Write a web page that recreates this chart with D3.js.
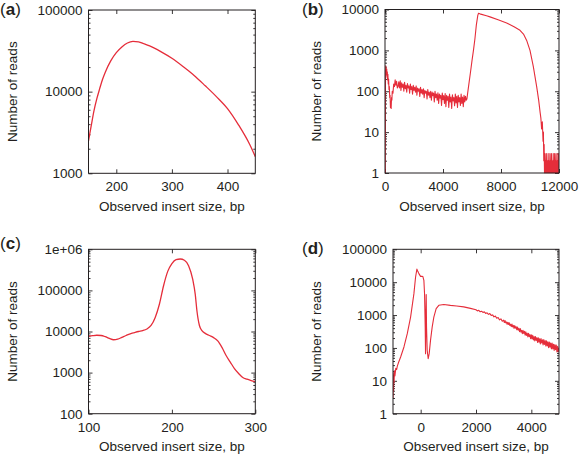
<!DOCTYPE html>
<html><head><meta charset="utf-8">
<script src="https://cdn.jsdelivr.net/npm/d3@7"></script>
<style>
html,body{margin:0;padding:0;background:#fff;}
svg{display:block;font-family:"Liberation Sans",Arial,Helvetica,sans-serif;}
</style></head><body>
<svg id="chart" width="579" height="454"></svg>
<script>
// ---------- Panel (a) ----------
const aX = [150,155,160,165,170,175,180,190,200,210,220,230,240,250,260,280,300,320,340,360,380,400,420,440,450];
const aY = [2500,3860,5900,8200,10800,14000,17200,23800,30000,35200,39400,41200,40800,38600,36300,30900,25600,20300,15800,11800,8700,6200,3900,2250,1600];
const aXTicks = [200,300,400];
const aYTicks = [1000,10000,100000];
const aYLabels = ["1000","10000","100000"];

// ---------- Panel (b): [insert size, reads] ----------
const bPoints = [
  [0,1],[20,1],[35,300],[50,420],[65,250],[80,380],[100,280],[120,350],[140,220],[160,300],[180,190],[200,260],
  [225,150],[250,200],[275,110],[300,130],[325,70],[350,80],[375,40],[400,55],[425,38],[450,70],[475,60],[500,100],
  [550,90],[600,150],[650,130],[700,190],[750,140],[800,175],[850,120],
  [900,130],[950,170],[1000,120],[1050,180],[1100,105],[1150,160],[1200,125],[1250,150],[1300,100],[1350,165],
  [1400,115],[1450,140],[1500,95],[1550,155],[1600,120],[1650,135],[1700,90],[1750,150],[1800,110],[1850,130],
  [1900,85],[1950,140],[2000,105],[2050,125],[2100,95],[2150,135],[2200,80],[2250,120],[2300,100],[2350,115],
  [2400,75],[2450,125],[2500,90],[2550,110],[2600,85],[2650,115],[2700,70],[2750,105],[2800,90],[2850,100],
  [2900,65],[2950,110],[3000,80],[3050,95],[3100,70],[3150,100],[3200,60],[3250,95],[3300,78],[3350,90],
  [3400,55],[3450,100],[3500,70],[3550,85],[3600,60],[3650,92],[3700,50],[3750,85],[3800,68],[3850,80],
  [3900,45],[3950,90],[4000,62],[4050,78],[4100,50],[4150,88],[4200,42],[4250,80],[4300,60],[4350,75],
  [4400,40],[4450,85],[4500,55],[4550,72],[4600,38],[4650,82],[4700,58],[4750,70],[4800,44],[4850,85],
  [4900,52],[4950,75],[5000,40],[5050,80],[5100,55],[5150,70],[5200,45],[5250,85],[5300,50],[5350,72],
  [5400,42],[5450,80],[5500,55],[5550,75],[5600,60],[5650,65],
  [5700,90],[5800,165],[5900,300],[6000,560],[6100,1000],[6200,1900],[6300,4200],[6400,7200],[6450,8100],
  [6500,8000],[6600,7700],[7000,7000],[7240,6600],[7800,5600],[8390,4700],[8900,3800],[9310,3100],[9550,2500],
  [9770,1750],[10000,1000],[10230,400],[10460,130],[10600,60],[10700,30],[10750,22],[10800,12],[10850,18],
  [10900,6],[10925,10],[10950,2],[10975,5],
  [11000,1],[11025,3],[11050,1],[11075,2],[11100,1],[11125,3],[11150,1],[11175,1],[11200,2],[11225,1],
  [11250,3],[11275,1],[11300,2],[11325,1],[11350,1],[11375,3],[11400,1],[11425,2],[11450,1],[11475,3],
  [11500,1],[11525,2],[11550,1],[11575,1],[11600,3],[11625,1],[11650,2],[11675,1],[11700,3],[11725,1],
  [11750,2],[11775,1],[11800,3],[11825,1],[11850,1],[11875,2],[11900,1],[11925,3],[11950,1],[11975,2],[12000,3]
];
const bXTicks = [0,4000,8000,12000];
const bYTicks = [1,10,100,1000,10000];
const bYLabels = ["1","10","100","1000","10000"];

// ---------- Panel (c) ----------
const cX = [100,105,110,115,120,125,130,135,140,145,150,155,160,165,170,175,180,185,190,195,200,205,210,215,220,225,228,230,233,236,240,245,250,255,260,265,270,275,280,285,290,295,300];
const cY = [7600,7900,8100,8000,7500,6800,6300,6500,7200,8000,8800,9400,10000,10500,11500,14000,22000,46000,130000,290000,450000,560000,580000,540000,400000,185000,80000,32000,14000,10500,9000,8000,7100,5900,4100,2600,1800,1250,950,760,690,640,600];
const cXTicks = [100,200,300];
const cYTicks = [100,1000,10000,100000,1000000];
const cYLabels = ["100","1000","10000","100000","1e+06"];

// ---------- Panel (d): [insert size, reads] ----------
const dPoints = [
  [-1000,3],[-990,15],[-980,5],[-970,18],[-960,9],[-950,20],[-930,14],[-900,24],[-870,22],[-844,28],[-800,36],
  [-724,53],[-604,107],[-484,272],[-364,870],[-244,4470],[-184,14400],[-136,25000],[-100,21000],[-64,18200],
  [-4,15000],[40,15200],[80,14800],[116,11400],[140,4500],[164,430],[176,67],[188,900],[200,4200],[212,430],
  [236,85],[272,47],[308,67],[356,170],[416,430],[476,870],[560,1560],[656,1980],[836,2100],[1076,1970],
  [1300,1880],[1556,1770],[1800,1600],
  [2000,1450],[2050,1340],[2100,1390],[2150,1260],[2200,1310],[2250,1200],[2300,1250],[2350,1120],[2400,1170],
  [2450,1050],[2500,1110],[2550,975],[2600,1010],[2650,880],[2700,930],[2750,800],[2800,840],[2850,715],
  [2900,765],[2950,650],[3000,700],
  [3025,592],[3050,677],[3075,580],[3100,614],[3125,522],[3150,606],[3175,518],[3200,585],[3225,481],[3250,530],
  [3275,446],[3300,531],[3325,437],[3350,485],[3375,392],[3400,477],[3425,401],[3450,444],[3475,356],[3500,429],
  [3525,349],[3550,394],[3575,311],[3600,388],[3625,302],[3650,346],[3675,273],[3700,345],[3725,278],[3750,319],
  [3775,243],[3800,310],[3825,240],[3850,281],[3875,215],[3900,280],[3925,220],[3950,255],[3975,190],[4000,249],
  [4025,189],[4050,242],[4075,176],[4100,221],[4125,163],[4150,223],[4175,169],[4200,205],[4225,147],[4250,205],
  [4275,150],[4300,191],[4325,133],[4350,192],[4375,141],[4400,176],[4425,123],[4450,181],[4475,127],[4500,167],
  [4525,114],[4550,166],[4575,115],[4600,153],[4625,101],[4650,151],[4675,106],[4700,142],[4725,94],[4750,140],
  [4775,94],[4800,130],[4825,84],[4850,126],[4875,88],[4900,123],[4925,76],[4950,113],[4975,77],[5000,101]
];
const dXTicks = [0,2000,4000];
const dYTicks = [1,10,100,1000,10000,100000];
const dYLabels = ["1","10","100","1000","10000","100000"];

const xTitle = "Observed insert size, bp";
const yTitle = "Number of reads";
const panelLetters = ["a","b","c","d"];

const RED = "#e52d3a";
const INK = "#231f20";
const FS = 13.5;

const aPoints = aX.map((v,i)=>[v,aY[i]]);
const cPoints = cX.map((v,i)=>[v,cY[i]]);

const panels = [
  {letter:panelLetters[0], pts:aPoints, xd:[150,450], yd:[1000,100000], xt:aXTicks, yt:aYTicks, yl:aYLabels, box:[88.5,10,255.3,173.3], smooth:true, lab:[0,14.5], yTitleX:12},
  {letter:panelLetters[1], pts:bPoints, xd:[0,12000], yd:[1,10000], xt:bXTicks, yt:bYTicks, yl:bYLabels, box:[385,9.5,559,173], smooth:false, lab:[302,14.5], yTitleX:316.5},
  {letter:panelLetters[2], pts:cPoints, xd:[100,300], yd:[100,1000000], xt:cXTicks, yt:cYTicks, yl:cYLabels, box:[88.5,249.3,255.3,413.7], smooth:true, lab:[0,249], yTitleX:12},
  {letter:panelLetters[3], pts:dPoints, xd:[-1000,5000], yd:[1,100000], xt:dXTicks, yt:dYTicks, yl:dYLabels, box:[393,249.3,559,413.7], smooth:false, lab:[302,253.5], yTitleX:316.5}
];

const svg = d3.select("#chart");

panels.forEach((p, idx) => {
  const [L,T,R,B] = p.box;
  const x = d3.scaleLinear().domain(p.xd).range([L,R]);
  const y = d3.scaleLog().domain(p.yd).range([B,T]);
  const g = svg.append("g");

  const cid = "clip" + idx;
  svg.append("clipPath").attr("id", cid).append("rect")
    .attr("x", L).attr("y", T-0.5).attr("width", R-L).attr("height", B-T+1);

  const minors = [];
  const lo = Math.round(Math.log10(p.yd[0])), hi = Math.round(Math.log10(p.yd[1]));
  for (let e = lo; e < hi; e++) for (let k = 2; k <= 9; k++) minors.push(k*Math.pow(10,e));

  const styleAxis = sel => {
    sel.select(".domain").remove();
    sel.selectAll("line").attr("stroke", INK).attr("stroke-width", 0.9);
    sel.selectAll("text").attr("font-size", FS).attr("fill", INK)
      .attr("font-family", "'Liberation Sans',Arial,Helvetica,sans-serif");
  };

  g.append("g").attr("transform", `translate(${L},0)`)
    .call(d3.axisLeft(y).tickValues(minors).tickSize(-2).tickFormat("")).call(styleAxis);
  g.append("g").attr("transform", `translate(${R},0)`)
    .call(d3.axisRight(y).tickValues(minors).tickSize(-2).tickFormat("")).call(styleAxis);
  g.append("g").attr("transform", `translate(${L},0)`)
    .call(d3.axisLeft(y).tickValues(p.yt).tickSize(-4).tickPadding(6).tickFormat((d,i)=>p.yl[i])).call(styleAxis);
  g.append("g").attr("transform", `translate(${R},0)`)
    .call(d3.axisRight(y).tickValues(p.yt).tickSize(-4).tickFormat("")).call(styleAxis);
  g.append("g").attr("transform", `translate(0,${B})`)
    .call(d3.axisBottom(x).tickValues(p.xt).tickSize(-4).tickPadding(8.5).tickFormat(d3.format("d"))).call(styleAxis);
  g.append("g").attr("transform", `translate(0,${T})`)
    .call(d3.axisTop(x).tickValues(p.xt).tickSize(-4).tickFormat("")).call(styleAxis);

  const line = d3.line().x(d=>x(d[0])).y(d=>y(d[1]))
    .curve(p.smooth ? d3.curveMonotoneX : d3.curveLinear);
  g.append("path").datum(p.pts).attr("clip-path", `url(#${cid})`)
    .attr("d", line).attr("fill","none").attr("stroke", RED)
    .attr("stroke-width", p.smooth ? 1.3 : 1.1).attr("stroke-linejoin","round");

  g.append("rect").attr("x", L).attr("y", T).attr("width", R-L).attr("height", B-T)
    .attr("fill","none").attr("stroke", INK).attr("stroke-width", 1);

  g.append("text").attr("x", (L+R)/2).attr("y", B+37.5).attr("text-anchor","middle")
    .attr("font-size", FS).attr("fill", INK).text(xTitle);
  g.append("text").attr("transform", `translate(${p.yTitleX},${(T+B)/2}) rotate(-90)`)
    .attr("text-anchor","middle").attr("dy","0.35em")
    .attr("font-size", FS).attr("fill", INK).text(yTitle);

  const t = g.append("text").attr("x", p.lab[0]).attr("y", p.lab[1]).attr("font-size", 17).attr("fill", INK);
  t.append("tspan").text("(");
  t.append("tspan").attr("font-weight","bold").text(p.letter);
  t.append("tspan").text(")");
});
</script>
</body></html>
